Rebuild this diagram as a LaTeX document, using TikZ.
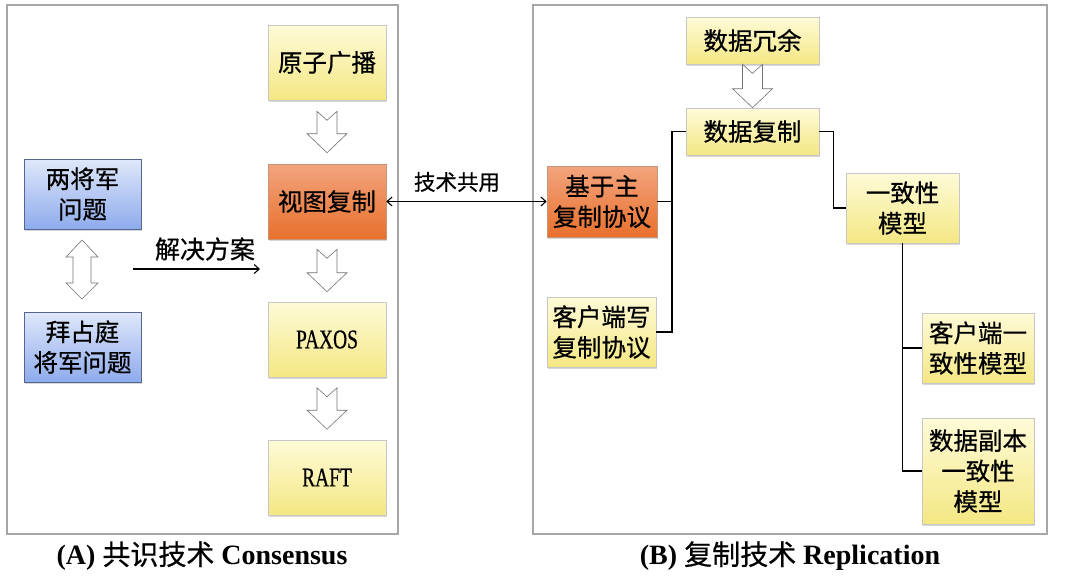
\documentclass[tikz,border=0pt]{standalone}
\usepackage{fontspec}
\usepackage{graphicx}
\setmainfont{Liberation Serif}
\newfontfamily\cjk{Noto Sans CJK SC}
\newfontfamily\cjkb[FakeBold=0.6]{Noto Sans CJK SC}
\newfontfamily\latinb[FakeBold=0.6]{Liberation Serif}
\usetikzlibrary{arrows.meta,shadows,calc}
\definecolor{ytop}{HTML}{FEFBD8}
\definecolor{ybot}{HTML}{F4E783}
\definecolor{otop}{HTML}{F3A47E}
\definecolor{obot}{HTML}{E8702C}
\definecolor{btop}{HTML}{DFE8FB}
\definecolor{bbot}{HTML}{8EABEC}
\definecolor{framec}{HTML}{A6A6A6}
\tikzset{
  box/.style={draw=black!22, line width=0.6pt, inner sep=0pt, align=center,
    font=\cjkb\fontsize{24.5}{30.5}\selectfont,
    drop shadow={shadow xshift=1.2pt, shadow yshift=-1.8pt, opacity=0.25, fill=black!60}},
  ybox/.style={box, top color=ytop, bottom color=ybot},
  obox/.style={box, top color=otop, bottom color=obot, draw=obot!70!black!60},
  bbox/.style={box, top color=btop, bottom color=bbot, draw=bbot!60!black},
  frame/.style={draw=framec, line width=1.1pt},
  hollow/.style={draw=black!55, fill=white, line width=0.6pt, line join=miter},
  conn/.style={draw=black, line width=1.3pt},
  tip/.style={line width=1.1pt, -{Straight Barb[length=5pt,width=9pt]}},
  dtip/.style={line width=1.1pt, {Straight Barb[length=5pt,width=9pt]}-{Straight Barb[length=5pt,width=9pt]}}
}
\newcommand\harrow[3]{%
  \path[hollow] let \p1=(#1.south), \p2=(#2.north) in
    (\x1-10pt,\y1-#3) -- (\x1,\y1-#3-9pt) -- (\x1+10pt,\y1-#3)
    -- (\x1+10pt,\y2+#3+19pt) -- (\x1+20pt,\y2+#3+19pt) -- (\x1,\y2+#3)
    -- (\x1-20pt,\y2+#3+19pt) -- (\x1-10pt,\y2+#3+19pt) -- cycle;}
\begin{document}
\begin{tikzpicture}[x=1pt,y=-1pt]
\useasboundingbox[fill=white] (0,0) rectangle (1080,576);
% frames
\draw[frame] (7,5) rectangle (398,534);
\draw[frame] (533,5) rectangle (1047,534);
% left column
\node[ybox, minimum width=118pt, minimum height=75pt] (ys) at (327,62.5) {原子广播};
\node[obox, minimum width=118pt, minimum height=75pt] (st) at (327,201.5) {视图复制};
\node[ybox, minimum width=118pt, minimum height=75pt] (px) at (327,339.5) {\scalebox{0.72}[1]{\latinb\fontsize{27}{27}\selectfont PAXOS}};
\node[ybox, minimum width=118pt, minimum height=75pt] (rf) at (327,477.5) {\scalebox{0.72}[1]{\latinb\fontsize{27}{27}\selectfont RAFT}};
\node[bbox, minimum width=117pt, minimum height=70pt] (lj) at (82.5,194) {两将军\\问题};
\node[bbox, minimum width=117pt, minimum height=70pt] (bz) at (82.5,347) {拜占庭\\将军问题};
\harrow{ys}{st}{11pt}
\harrow{st}{px}{10pt}
\harrow{px}{rf}{10.5pt}
% double hollow arrow
\path[hollow] (82,240) -- (98,257) -- (91,257) -- (91,283) -- (98,283) -- (82,299)
  -- (66,283) -- (73,283) -- (73,257) -- (66,257) -- cycle;
% solution arrow
\coordinate (s1) at (133,269);
\coordinate (s2) at (260,269);
\draw[tip] (s1) -- (s2);
\node[font=\cjkb\fontsize{25}{25}\selectfont] (jl) at (205,249) {解决方案};
% right column
\node[ybox, minimum width=133pt, minimum height=47pt] (ry) at (752.5,40.5) {数据冗余};
\node[ybox, minimum width=133pt, minimum height=47pt] (fz) at (752.5,131.5) {数据复制};
\harrow{ry}{fz}{0pt}
\node[obox, minimum width=110pt, minimum height=71pt] (jy) at (602,201.5) {基于主\\复制协议};
\node[ybox, minimum width=109pt, minimum height=70pt] (kx) at (601.5,332) {客户端写\\复制协议};
\node[ybox, minimum width=113pt, minimum height=70pt] (yz) at (902.5,208) {一致性\\模型};
\node[ybox, minimum width=112pt, minimum height=70pt] (kh) at (978,348) {客户端一\\致性模型};
\node[ybox, minimum width=112pt, minimum height=106pt] (sj) at (978,471) {数据副本\\一致性\\模型};
% connectors
\draw[dtip] (st.east) -- (jy.west);
\node[font=\cjkb\fontsize{21.5}{21.5}\selectfont] (gy) at (457,182) {技术共用};
\coordinate (bx) at (672,131.5);
\draw[conn] (fz.west) -- (bx) |- (jy.east);
\draw[conn] (bx) |- (kx.east);
\draw[conn] (fz.east) -- ++(14,0) |- (yz.west);
\draw[conn] (yz.south) |- (kh.west);
\draw[conn] (yz.south) |- (sj.west);
% captions
\node[font=\fontsize{28}{28}\selectfont] (ca) at (202,556) {\textbf{(A)} {\cjkb 共识技术} \textbf{Consensus}};
\node[font=\fontsize{28}{28}\selectfont] (cb) at (790,556) {\textbf{(B)} {\cjkb 复制技术} \textbf{Replication}};
\end{tikzpicture}
\end{document}
